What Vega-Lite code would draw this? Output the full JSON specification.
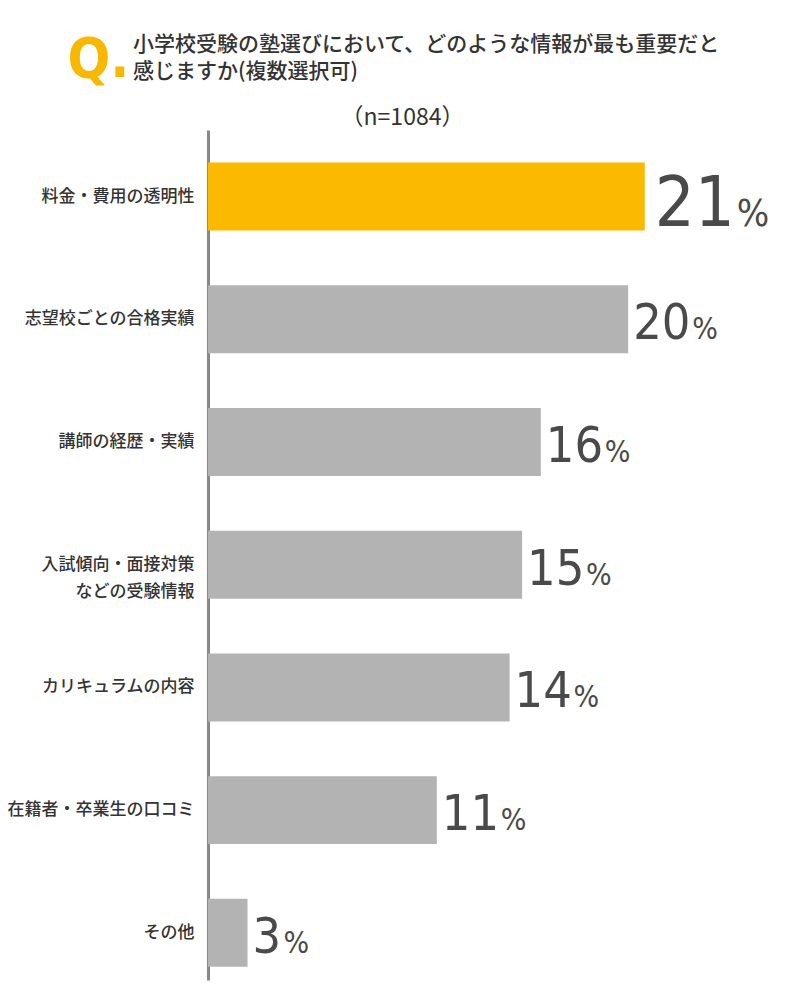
{
  "$schema": "https://vega.github.io/schema/vega-lite/v6.json",
  "width": 520,
  "height": 850,
  "autosize": {"type": "none"},
  "padding": {"left": 208, "top": 130, "right": 72, "bottom": 20},
  "background": "white",
  "config": {"view": {"stroke": null}},
  "title": {
    "text": ["小学校受験の塾選びにおいて、どのような情報が最も重要だと", "感じますか(複数選択可)"],
    "anchor": "start",
    "frame": "group",
    "dx": -75,
    "dy": 73,
    "offset": 22,
    "fontSize": 21,
    "fontWeight": 500,
    "color": "#333333",
    "font": "Noto Sans CJK JP",
    "lineHeight": 27
  },
  "data": {
    "values": [
      {"item": "料金・費用の透明性", "value": 21.0, "pct": "21"},
      {"item": "志望校ごとの合格実績", "value": 20.2, "pct": "20"},
      {"item": "講師の経歴・実績", "value": 16.0, "pct": "16"},
      {"item": "入試傾向・面接対策\nなどの受験情報", "value": 15.1, "pct": "15"},
      {"item": "カリキュラムの内容", "value": 14.5, "pct": "14"},
      {"item": "在籍者・卒業生の口コミ", "value": 11.0, "pct": "11"},
      {"item": "その他", "value": 1.9, "pct": "3"}
    ]
  },
  "encoding": {
    "y": {
      "field": "item",
      "type": "nominal",
      "sort": null,
      "scale": {"paddingInner": 0.446, "paddingOuter": 0.1865, "align": 0.712},
      "axis": {
        "title": "Q.",
        "titleAngle": 0,
        "titleX": -141,
        "titleY": -54,
        "titleAlign": "left",
        "titleBaseline": "alphabetic",
        "titleFontSize": 56,
        "titleFont": "DejaVu Sans Condensed",
        "titleFontWeight": "bold",
        "titleColor": "#F9B800",
        "ticks": false,
        "domainColor": "#888888",
        "domainWidth": 3,
        "labelPadding": 14,
        "labelLimit": 300,
        "labelFont": "Noto Sans CJK JP",
        "labelFontSize": 17,
        "labelFontWeight": 500,
        "labelColor": "#333333",
        "labelLineHeight": 27,
        "labelExpr": "split(datum.label, '\\n')"
      }
    },
    "x": {
      "field": "value",
      "type": "quantitative",
      "scale": {"domain": [0, 25]},
      "axis": {
        "orient": "top",
        "labels": false,
        "ticks": false,
        "domain": false,
        "grid": false,
        "title": "（n=1084）",
        "titleX": 194,
        "titleY": -13,
        "titleBaseline": "middle",
        "titleFont": "Noto Sans CJK JP",
        "titleFontSize": 23,
        "titleFontWeight": "normal",
        "titleColor": "#333333"
      }
    }
  },
  "layer": [
    {
      "mark": {"type": "bar"},
      "encoding": {
        "color": {
          "condition": {"test": "datum.pct === '21'", "value": "#FBBA00"},
          "value": "#B3B3B3"
        }
      }
    },
    {
      "transform": [{"filter": "datum.pct === '21'"}],
      "layer": [
        {
          "mark": {"type": "text", "align": "left", "baseline": "alphabetic", "dx": 10, "dy": 29, "fontSize": 70, "font": "DejaVu Sans Condensed", "color": "#4a4a4a"},
          "encoding": {"text": {"field": "pct"}}
        },
        {
          "mark": {"type": "text", "align": "left", "baseline": "alphabetic", "dx": 92, "dy": 29, "fontSize": 38, "font": "DejaVu Sans Condensed", "color": "#4a4a4a", "text": "%"},
          "encoding": {}
        }
      ]
    },
    {
      "transform": [{"filter": "datum.pct !== '21'"}],
      "mark": {"type": "text", "align": "left", "baseline": "alphabetic", "dx": 5, "dy": 20, "fontSize": 50, "font": "DejaVu Sans Condensed", "color": "#4a4a4a"},
      "encoding": {"text": {"field": "pct"}}
    },
    {
      "transform": [{"filter": "datum.pct !== '21' && length(datum.pct) === 2"}],
      "mark": {"type": "text", "align": "left", "baseline": "alphabetic", "dx": 64, "dy": 20, "fontSize": 30, "font": "DejaVu Sans Condensed", "color": "#4a4a4a", "text": "%"},
      "encoding": {}
    },
    {
      "transform": [{"filter": "length(datum.pct) === 1"}],
      "mark": {"type": "text", "align": "left", "baseline": "alphabetic", "dx": 36, "dy": 20, "fontSize": 30, "font": "DejaVu Sans Condensed", "color": "#4a4a4a", "text": "%"},
      "encoding": {}
    }
  ]
}
